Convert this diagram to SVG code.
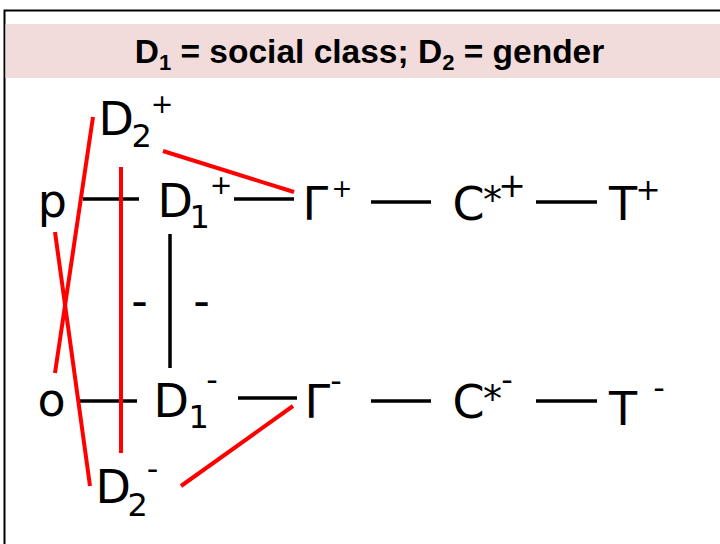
<svg xmlns="http://www.w3.org/2000/svg" width="720" height="544" viewBox="0 0 720 544">
<style>
.t{font-family:"DejaVu Sans",Verdana,sans-serif;fill:#000}
.m{font-size:46px}
.s{font-size:32px}
.p{font-size:27px}
.a{font-size:38px}
.k{stroke:#000;stroke-width:3.5;fill:none}
.r{stroke:#ff0000;stroke-width:4;fill:none}
.title{font-family:"Liberation Sans",Arial,sans-serif;font-weight:bold;font-size:33.5px;fill:#000}
</style>
<rect x="0" y="0" width="720" height="544" fill="#fff"/>
<rect x="4.5" y="10.5" width="730" height="550" fill="#fff" stroke="#000" stroke-width="2"/>
<g id="title">
<rect x="5.5" y="24" width="720" height="54" fill="#f2dcdb"/>
<text class="title" x="369.5" y="63" text-anchor="middle">D<tspan font-size="22px" dy="7">1</tspan><tspan dy="-7"> = social class; D</tspan><tspan font-size="22px" dy="7">2</tspan><tspan dy="-7"> = gender</tspan></text>
</g>
<g id="connectors">
<line class="k" x1="83" y1="199" x2="139" y2="199"/>
<line class="k" x1="234" y1="199" x2="294" y2="199"/>
<line class="k" x1="371" y1="202" x2="431" y2="202"/>
<line class="k" x1="536" y1="202" x2="597" y2="202"/>
<line class="k" x1="80" y1="401" x2="137" y2="401"/>
<line class="k" x1="238" y1="398" x2="297" y2="398"/>
<line class="k" x1="371" y1="401" x2="431" y2="401"/>
<line class="k" x1="536" y1="401" x2="597" y2="401"/>
<line class="k" x1="170" y1="234" x2="170" y2="368"/>
<text class="t m" x="139.5" y="316.6" text-anchor="middle">-</text>
<text class="t m" x="201.5" y="316.6" text-anchor="middle">-</text>
<line class="r" x1="93" y1="117" x2="55" y2="373"/>
<line class="r" x1="55" y1="232" x2="90" y2="486"/>
<line class="r" x1="121" y1="167" x2="121" y2="453"/>
<line class="r" x1="163" y1="151" x2="294" y2="192"/>
<line class="r" x1="293" y1="406" x2="181" y2="486"/>
</g>
<g id="p"><text class="t m" x="37.7" y="217">p</text></g>
<g id="o"><text class="t m" x="37.5" y="416">o</text></g>
<g id="D2plus">
<text class="t m" x="98.5" y="135">D</text>
<text class="t s" x="131.5" y="147">2</text>
<text class="t p" x="162" y="112.5" text-anchor="middle">+</text>
</g>
<g id="D1plus">
<text class="t m" x="157.5" y="217">D</text>
<text class="t s" x="189.5" y="228">1</text>
<text class="t p" x="221" y="194" text-anchor="middle">+</text>
</g>
<g id="D1minus">
<text class="t m" x="153.5" y="417">D</text>
<text class="t s" x="188.5" y="428">1</text>
<text class="t s" x="212" y="391" text-anchor="middle">-</text>
</g>
<g id="D2minus">
<text class="t m" x="95.5" y="503">D</text>
<text class="t s" x="127.5" y="516">2</text>
<text class="t s" x="152.5" y="480" text-anchor="middle">-</text>
</g>
<g id="Gplus">
<text class="t m" x="302.5" y="220">Γ</text>
<text class="t" font-size="25px" x="342" y="197" text-anchor="middle">+</text>
</g>
<g id="Cplus">
<text class="t m" x="452.5" y="220">C</text>
<text class="t a" x="492.5" y="212.5" text-anchor="middle">*</text>
<text class="t" font-size="33px" x="512" y="196.5" text-anchor="middle">+</text>
</g>
<g id="Tplus">
<text class="t m" x="609" y="220">T</text>
<text class="t" font-size="30px" x="648" y="200.4" text-anchor="middle">+</text>
</g>
<g id="Gminus">
<text class="t m" x="304.5" y="418">Γ</text>
<text class="t s" x="336" y="392" text-anchor="middle">-</text>
</g>
<g id="Cminus">
<text class="t m" x="452.5" y="418">C</text>
<text class="t a" x="492.5" y="411.5" text-anchor="middle">*</text>
<text class="t s" x="507" y="391" text-anchor="middle">-</text>
</g>
<g id="Tminus">
<text class="t m" x="609" y="425">T</text>
<text class="t s" x="659" y="399" text-anchor="middle">-</text>
</g>
</svg>
